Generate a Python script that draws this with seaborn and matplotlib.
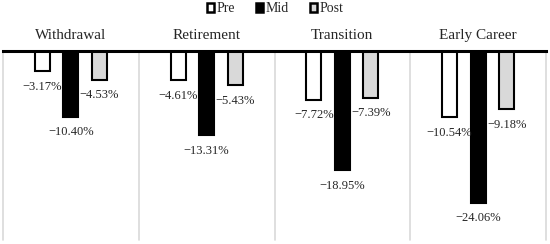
"""
Grouped bar chart: change by career stage (Pre / Mid / Post)
"""
import matplotlib
matplotlib.use('Agg')
import matplotlib.pyplot as plt
import matplotlib.transforms as mtransforms
from matplotlib.patches import Patch
import pandas as pd
import seaborn as sns

# Data
stages = ['Withdrawal', 'Retirement', 'Transition', 'Early Career']
periods = ['Pre', 'Mid', 'Post']
pre_vals = [-3.17, -4.61, -7.72, -10.54]
mid_vals = [-10.40, -13.31, -18.95, -24.06]
post_vals = [-4.53, -5.43, -7.39, -9.18]

colors = {'Pre': '#ffffff', 'Mid': '#000000', 'Post': '#d9d9d9'}

rows = []
for i, s in enumerate(stages):
    for p, vals in zip(periods, [pre_vals, mid_vals, post_vals]):
        rows.append({'stage': s, 'period': p, 'value': vals[i]})
df = pd.DataFrame(rows)

sns.set_style('white')
plt.rcParams['font.family'] = ['Liberation Serif', 'DejaVu Serif']

fig = plt.figure(figsize=(5.5, 2.44), dpi=100)
ax = fig.add_axes([3 / 550, 4 / 244, 543 / 550, 189 / 244])

sns.barplot(data=df, x='stage', y='value', hue='period', order=stages,
            hue_order=periods, palette=colors, width=0.63, gap=0.48,
            edgecolor='black', linewidth=1.5, legend=False, ax=ax)

ax.set_ylim(-30, 0)
ax.set_xlim(-0.5, 3.5)
ax.set_xlabel('')
ax.set_ylabel('')
ax.set_xticks([])
ax.set_yticks([])
for side in ['left', 'right', 'bottom']:
    ax.spines[side].set_visible(False)
ax.spines['top'].set_visible(True)
ax.spines['top'].set_color('black')
ax.spines['top'].set_linewidth(2.2)

# separators between groups
for xb in [-0.5, 0.5, 1.5, 2.5, 3.5]:
    ax.axvline(xb, color='#d9d9d9', lw=1.2, zorder=0, clip_on=False)

# value labels under each bar
for cont in ax.containers:
    for bar in cont:
        h = bar.get_height()
        xc = bar.get_x() + bar.get_width() / 2
        txt = f'{h:.2f}%'.replace('-', '\u2212')
        ax.annotate(txt, (xc, h), xytext=(0, -7), textcoords='offset points',
                    ha='center', va='top', fontsize=9)

# group titles above the zero line
trans = mtransforms.blended_transform_factory(ax.transData, ax.transAxes)
for i, s in enumerate(stages):
    ax.text(i, 1.08, s, transform=trans, ha='center', va='center',
            fontsize=11)

handles = [Patch(facecolor=colors[p], edgecolor='black', linewidth=1.8, label=p)
           for p in periods]
fig.legend(handles=handles, loc='center', bbox_to_anchor=(0.5, 1 - 9 / 244),
           ncol=3, frameon=False, fontsize=10, handlelength=0.55,
           handleheight=0.55, handletextpad=0.15, columnspacing=1.5)

fig.savefig('out.png', dpi=100)
